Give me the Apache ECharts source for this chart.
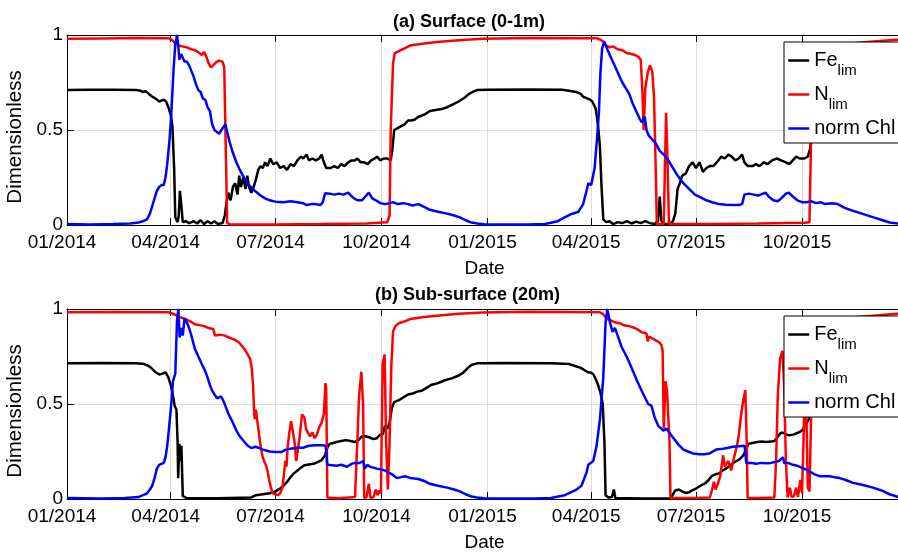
<!DOCTYPE html>
<html>
<head>
<meta charset="utf-8">
<script src="https://cdn.jsdelivr.net/npm/echarts@6/dist/echarts.min.js"></script>
<style>html,body{margin:0;padding:0;background:#fff}#c{width:898px;height:552px}</style>
</head>
<body>
<div id="c"></div>
<script>
// ---- tick labels (days since 2014-01-01) ----
const tickDays = [0, 90, 181, 273, 365, 455, 546, 638];
const tickLabels = ['01/2014','04/2014','07/2014','10/2014','01/2015','04/2015','07/2015','10/2015'];
const seriesNames = ['Fe_lim', 'N_lim', 'norm Chl'];
const panelTitles = ['(a) Surface (0-1m)', '(b) Sub-surface (20m)'];

// ---- (a) Surface: Fe limitation ----
const feA_days = [0,20,40,60,63,66,68,71,74,77,80,82,84,86,88,90,91.5,93,94,96,97,98,99,100.5,103,106,110,113,116,119,122,125,128,131,135,137,138.5,140,142,144,146,148,149.5,151,153,155,156.5,158,160,162,164,166,168,170,172,174,176.5,179,182,185,188,191,194,197,200,203,205,208,210,213,216,219,221,223,225,229,232,235,238,241,244,247,250,252,255,258,261,264,267,269,272,275,278,281,282.5,284,287,290,293,296,299,302,305,310,315,320,325,330,335,340,345,349,352,356,365,400,430,437,442,446,448,450,452,454,456,459,461,462.5,464,465.5,468,471,474,478,482,486,490,494,498,502,506,510,513,514.5,516,519,523,526,528,530,532,534,537,540,543,546,549,552,555,558,561,564,568,571,574,577,580,583,586,588,591,595,598,601,605,608,612,616,620,624,627,630,633,636,640,643,645,647,652,660,680,700,730];
const feA_vals = [0.71,0.712,0.712,0.71,0.708,0.70,0.705,0.69,0.675,0.665,0.65,0.655,0.66,0.65,0.62,0.58,0.52,0.3,0.04,0.015,0.05,0.18,0.12,0.015,0.02,0.01,0.02,0.008,0.025,0.005,0.02,0.008,0.02,0.005,0.01,0.05,0.12,0.17,0.13,0.2,0.22,0.16,0.26,0.2,0.25,0.19,0.26,0.2,0.17,0.2,0.24,0.29,0.31,0.3,0.33,0.31,0.35,0.32,0.33,0.3,0.31,0.29,0.32,0.31,0.34,0.36,0.35,0.37,0.34,0.35,0.34,0.35,0.37,0.33,0.30,0.3,0.31,0.3,0.32,0.31,0.33,0.34,0.34,0.35,0.33,0.33,0.32,0.34,0.35,0.36,0.34,0.35,0.35,0.34,0.4,0.5,0.51,0.52,0.53,0.55,0.55,0.555,0.57,0.58,0.6,0.605,0.61,0.62,0.635,0.65,0.67,0.69,0.70,0.71,0.712,0.713,0.712,0.705,0.70,0.69,0.675,0.67,0.665,0.66,0.65,0.61,0.52,0.42,0.2,0.03,0.015,0.02,0.005,0.015,0.01,0.02,0.008,0.018,0.01,0.02,0.01,0.005,0.02,0.15,0.02,0.005,0.005,0.02,0.06,0.19,0.22,0.26,0.27,0.31,0.33,0.30,0.33,0.28,0.30,0.31,0.31,0.33,0.36,0.35,0.37,0.36,0.34,0.35,0.37,0.33,0.31,0.31,0.32,0.31,0.33,0.32,0.34,0.35,0.34,0.33,0.32,0.34,0.36,0.35,0.35,0.36,0.4,0.5,0.52,0.55,0.6,0.63,0.68];

// ---- (a) Surface: N limitation ----
const nA_days = [0,30,60,88,91,94,97,100,104,108,111,114,117,119,121,123,125,127,129,132,135,136.5,137.5,139,142,180,220,260,278,280,281,283,284.5,288,293,298,310,321,340,361,400,460,463,465.5,468,471,474,478,482,485.7,490,493,496,498,499.5,500.5,502,504,506,508,509.5,511,512,518,519,520,521,522.5,560,600,640,644.5,646,647.5,650,655,665,680,700,720,730];
const nA_vals = [0.98,0.982,0.984,0.983,0.975,0.956,0.945,0.94,0.935,0.925,0.92,0.91,0.895,0.91,0.885,0.85,0.83,0.84,0.855,0.865,0.86,0.83,0.5,0.01,0.003,0.003,0.005,0.008,0.015,0.05,0.5,0.85,0.905,0.915,0.93,0.945,0.955,0.963,0.972,0.98,0.984,0.983,0.975,0.965,0.945,0.935,0.94,0.925,0.92,0.905,0.9,0.895,0.885,0.87,0.7,0.5,0.72,0.8,0.84,0.81,0.68,0.3,0.005,0.005,0.3,0.59,0.4,0.005,0.005,0.008,0.012,0.015,0.5,0.86,0.9,0.92,0.94,0.955,0.966,0.975,0.978];

// ---- (a) Surface: normalised Chl ----
const chlA_days = [0,20,40,55,62,66,69.5,72,74,76,78,80,82,84,85.5,87,89,90.5,92.5,94,95.5,96.5,97.5,99,100,102,104,106,108,110,112,114,116,118,120,122,124,126,128,130,132,134,135.5,137.5,139,141,144,147,150,154,158,163,168,172,176,181,188,194,200,205,208,212,216,220,222,224,228,232,236,240,244,248,252,256,259,262,265,268,272,276,280,283,287,292,296,300,305,310,315,322,330,336,341,346,350,356,362,380,400,415,426,432,438,444,448,451,452.5,455,458,460,461.7,463,464.5,466.4,468,470,473,476,479,482,485,488,491,494,497,499,501.5,503,505,508,511,514.5,518,521,525,530,535,540,545,550,555,560,566,572,578,583,586,588,592,596,600,604,606.5,609,613,617,620,624,626.5,630,634,638,642,646,650,654,658,664,669,675,682,690,700,708,714,722,730];
const chlA_vals = [0.005,0.003,0.005,0.008,0.013,0.02,0.03,0.06,0.1,0.14,0.18,0.2,0.21,0.21,0.25,0.32,0.45,0.58,0.82,0.95,1.0,0.95,0.87,0.9,0.89,0.86,0.86,0.84,0.81,0.78,0.74,0.71,0.7,0.665,0.66,0.62,0.6,0.53,0.5,0.49,0.48,0.5,0.49,0.53,0.49,0.44,0.38,0.33,0.29,0.245,0.21,0.18,0.155,0.14,0.13,0.123,0.12,0.125,0.12,0.115,0.105,0.11,0.11,0.105,0.12,0.167,0.165,0.16,0.165,0.16,0.17,0.145,0.13,0.13,0.15,0.17,0.14,0.13,0.115,0.11,0.115,0.12,0.11,0.115,0.11,0.103,0.11,0.095,0.08,0.07,0.06,0.05,0.04,0.025,0.015,0.008,0.004,0.002,0.002,0.005,0.02,0.04,0.058,0.07,0.11,0.18,0.22,0.21,0.3,0.45,0.59,0.8,0.93,0.965,0.94,0.91,0.87,0.83,0.79,0.75,0.72,0.69,0.64,0.6,0.56,0.54,0.57,0.5,0.47,0.45,0.43,0.39,0.37,0.35,0.31,0.26,0.22,0.19,0.16,0.145,0.13,0.12,0.11,0.107,0.105,0.105,0.11,0.16,0.165,0.16,0.155,0.165,0.17,0.15,0.13,0.125,0.14,0.165,0.17,0.15,0.13,0.12,0.12,0.125,0.115,0.12,0.11,0.115,0.11,0.09,0.075,0.06,0.04,0.025,0.013,0.008,0.005];

// ---- (b) Sub-surface: Fe limitation ----
const feB_days = [0,30,60,67,71,74,77,80,83,85.5,88,90,91.5,93.5,95,96,96.5,97.5,98.5,99.3,100.5,104,130,160,164,170,176,181,185,188,191,194,197,200,203,206,210,214,218,221,224,226,228,231,234,238,242,246,250,253,256,259,262,266,269,272,274,276,278,280,282,284,288,292,296,300,304,308,312,316,322,328,334,340,344,348,351,356,380,420,436,441,446,450,452.5,455,457,459,461,463,465,466.5,467.5,470,473,474.7,476,500,524,526,528,531,534,537,540,543,546,550,554,557,559.5,563,566,569,572,576,580,584,587,589.5,591.4,595,599,603,607,611,614,616,619,621,624,627,631,635,638,640,642,644,647,650,655,665,685,705,730];
const feB_vals = [0.714,0.716,0.715,0.71,0.70,0.685,0.667,0.655,0.66,0.667,0.64,0.6,0.56,0.49,0.47,0.3,0.11,0.29,0.2,0.28,0.015,0.005,0.004,0.008,0.02,0.025,0.03,0.04,0.055,0.07,0.09,0.115,0.135,0.15,0.165,0.178,0.182,0.185,0.195,0.205,0.23,0.27,0.29,0.295,0.30,0.305,0.31,0.305,0.30,0.31,0.33,0.33,0.325,0.315,0.32,0.34,0.34,0.385,0.37,0.4,0.48,0.51,0.52,0.535,0.55,0.555,0.565,0.57,0.585,0.6,0.61,0.625,0.635,0.65,0.665,0.69,0.705,0.714,0.716,0.715,0.71,0.70,0.69,0.675,0.667,0.665,0.655,0.63,0.6,0.56,0.5,0.3,0.02,0.008,0.01,0.05,0.005,0.003,0.004,0.025,0.045,0.05,0.04,0.032,0.035,0.047,0.055,0.07,0.083,0.1,0.12,0.13,0.135,0.15,0.16,0.18,0.196,0.21,0.23,0.26,0.29,0.295,0.3,0.303,0.3,0.302,0.305,0.32,0.345,0.35,0.34,0.335,0.34,0.35,0.36,0.38,0.4,0.42,0.47,0.51,0.53,0.56,0.6,0.63,0.67];

// ---- (b) Sub-surface: N limitation ----
const nB_days = [0,40,88,92,95.5,99,103,107,111,115,119,123,127,128.5,130,133,137,140.5,145,149,152,155,157,159,160.5,161.5,162.5,163,164,165,166.5,168,169.5,171,172.5,174,175.5,177,178.5,181,183,185,187,188.5,189.5,190.5,191.5,193,194.5,196,197.5,199,200.5,202,204,206,207.5,209,211,213,215,217,219,221,223,224.3,225,226,235,245,250,252,253.5,255.5,257,258,260,262,263.5,266,268,269.5,271,272.5,274,275.7,277,278.5,280,281.5,283,285,288,293,298,310,321,340,361,400,462,465,468.4,472,475.6,480,484,488,493,496,499,501,503,504,505.5,508,511,514,516,517,518,519.5,520.8,522,523,523.8,545,558,560,561.5,563,565,567,569.5,571,574,576.5,579.5,581.5,583,585.3,587,588.8,590,590.8,600,614,615.5,617,619,621,622.5,624,625.5,627.5,629,631,633,634.5,636.5,638,640,641.5,643,644.5,646.5,648.5,652,660,680,700,720,730];
const nB_vals = [0.983,0.984,0.983,0.975,0.965,0.955,0.947,0.935,0.92,0.915,0.91,0.9,0.895,0.86,0.855,0.865,0.86,0.85,0.84,0.825,0.805,0.78,0.76,0.737,0.68,0.6,0.45,0.42,0.47,0.42,0.35,0.28,0.23,0.2,0.18,0.15,0.1,0.06,0.03,0.025,0.02,0.03,0.06,0.14,0.2,0.17,0.27,0.35,0.41,0.4,0.3,0.2,0.21,0.33,0.445,0.43,0.37,0.35,0.33,0.35,0.32,0.34,0.38,0.4,0.45,0.61,0.58,0.008,0.004,0.008,0.01,0.3,0.54,0.67,0.5,0.005,0.01,0.08,0.005,0.01,0.05,0.02,0.045,0.03,0.71,0.76,0.3,0.05,0.3,0.7,0.88,0.91,0.925,0.935,0.947,0.958,0.965,0.975,0.982,0.985,0.983,0.975,0.95,0.94,0.93,0.925,0.913,0.91,0.9,0.89,0.877,0.875,0.87,0.83,0.855,0.845,0.835,0.825,0.81,0.78,0.37,0.62,0.57,0.58,0.3,0.005,0.005,0.008,0.05,0.09,0.05,0.08,0.12,0.23,0.17,0.2,0.15,0.23,0.28,0.33,0.45,0.52,0.574,0.3,0.005,0.005,0.008,0.2,0.55,0.74,0.78,0.6,0.2,0.008,0.06,0.01,0.015,0.06,0.01,0.1,0.03,0.45,0.55,0.06,0.04,0.6,0.88,0.91,0.93,0.955,0.965,0.975,0.978];

// ---- (b) Sub-surface: normalised Chl ----
const chlB_days = [0,30,50,62,66,69.5,72,74,76,78,80,82,84,85.5,87,89,90.5,92,94,95.5,96.7,97.8,99.3,100.5,102,104,106,108,111,114,117,119.5,122,124,126,128,130.3,132,133.5,135.5,137.5,140,143.3,147,150,154,157,160,163.5,166,170,176,181,186,190,194,199.5,205,210,215,221,224.5,226,230,234,238,243,247,250,254,257.3,258.5,260.8,263,266,269,273,276,279,282,286.3,290,293.5,298,305,310,315,322,330,336,341,346,350,356,362,380,405,420,432,441,446.6,451,452.5,456.8,459.7,462.6,465.5,467.5,469,471.3,473.6,475.6,478,481.4,485.7,488,491.5,495,498.8,502,504.5,507.4,510,513.2,517.6,520.5,524,527.7,531,535,539,543.3,549,553,557.8,563.5,569.4,574,578,583,588.2,589.6,594,598.4,602,607,611,614.3,618,621.5,622.5,626,630,634,637.4,641.7,646,649,653.3,658,662,666,670.7,676,682.3,690,699.7,707,714,722,730];
const chlB_vals = [0.005,0.003,0.005,0.01,0.02,0.03,0.05,0.07,0.11,0.16,0.18,0.185,0.19,0.22,0.28,0.4,0.5,0.62,0.66,0.94,1.0,0.85,0.9,0.86,0.95,0.93,0.9,0.86,0.79,0.75,0.71,0.68,0.64,0.6,0.57,0.55,0.53,0.52,0.54,0.52,0.49,0.45,0.41,0.36,0.33,0.3,0.28,0.268,0.275,0.27,0.26,0.25,0.247,0.247,0.26,0.265,0.27,0.27,0.28,0.283,0.283,0.28,0.18,0.178,0.175,0.18,0.17,0.185,0.19,0.19,0.2,0.16,0.18,0.17,0.165,0.16,0.155,0.15,0.14,0.13,0.11,0.115,0.12,0.11,0.105,0.095,0.08,0.07,0.06,0.05,0.04,0.025,0.015,0.008,0.004,0.002,0.002,0.005,0.02,0.045,0.07,0.14,0.18,0.2,0.28,0.42,0.64,0.93,1.0,0.93,0.88,0.9,0.86,0.8,0.75,0.72,0.67,0.62,0.57,0.53,0.5,0.49,0.43,0.385,0.36,0.37,0.34,0.31,0.285,0.26,0.25,0.24,0.235,0.236,0.24,0.26,0.265,0.27,0.275,0.278,0.28,0.19,0.19,0.185,0.19,0.188,0.19,0.195,0.2,0.22,0.19,0.19,0.18,0.175,0.165,0.155,0.14,0.13,0.12,0.12,0.12,0.115,0.11,0.1,0.085,0.075,0.06,0.045,0.025,0.01,0.005];

const panels = [
  { fe: [feA_days, feA_vals], n: [nA_days, nA_vals], chl: [chlA_days, chlA_vals] },
  { fe: [feB_days, feB_vals], n: [nB_days, nB_vals], chl: [chlB_days, chlB_vals] }
];

const FONT = '"Liberation Sans", Arial, Helvetica, sans-serif';
const gridTops = [35, 309];
const gridH = 190;
const legendTops = [42, 316];
const titleTops = [13, 286];
const titleLefts = [393, 375];

const pair = (d, v) => d.map((x, i) => [x, v[i]]);
const labelFor = v => {
  for (let i = 0; i < tickDays.length; i++) if (Math.abs(tickDays[i] - v) < 0.5) return tickLabels[i];
  return '';
};

const grid = [], xAxis = [], yAxis = [], series = [], legend = [], title = [];
gridTops.forEach((top, gi) => {
  grid.push({ left: 67, top: top, height: gridH, right: -10, outerBoundsMode: 'none', containLabel: false });
  xAxis.push({
    type: 'value', gridIndex: gi, min: 0, max: 730,
    name: 'Date', nameLocation: 'middle', nameGap: 34,
    nameTextStyle: { fontSize: 19, color: '#000', fontFamily: FONT, padding: [0, 6, 0, 0] },
    axisLine: { show: true, onZero: false, lineStyle: { color: '#000', width: 1 } },
    axisTick: { show: true, inside: true, length: 7, customValues: tickDays, lineStyle: { color: '#000' } },
    axisLabel: { customValues: tickDays, formatter: labelFor, fontSize: 19, color: '#000', fontFamily: FONT, margin: 8, padding: [0, 10, 0, 0] },
    splitLine: { show: true, lineStyle: { color: '#dedede', width: 1 } }
  });
  xAxis.push({
    type: 'value', gridIndex: gi, min: 0, max: 730, position: 'top',
    axisLine: { show: true, onZero: false, lineStyle: { color: '#000', width: 1 } },
    axisTick: { show: true, inside: true, length: 7, customValues: tickDays, lineStyle: { color: '#000' } },
    axisLabel: { show: false }, splitLine: { show: false }
  });
  yAxis.push({
    type: 'value', gridIndex: gi, min: 0, max: 1, interval: 0.5,
    name: 'Dimensionless', nameLocation: 'middle', nameGap: 33, nameRotate: 90,
    nameTextStyle: { fontSize: 20.5, color: '#000', fontFamily: FONT, padding: [0, 14, 0, 0] },
    axisLine: { show: true, lineStyle: { color: '#000', width: 1 } },
    axisTick: { show: true, inside: true, length: 7, lineStyle: { color: '#000' } },
    axisLabel: { fontSize: 19, color: '#000', fontFamily: FONT, margin: 4 },
    splitLine: { show: true, lineStyle: { color: '#dedede', width: 1 } }
  });
  const p = panels[gi];
  const defs = [[p.fe, '#000000'], [p.n, '#ff0000'], [p.chl, '#0000ff']];
  defs.forEach((d, si) => {
    series.push({
      type: 'line', name: seriesNames[si], xAxisIndex: gi * 2, yAxisIndex: gi,
      data: pair(d[0][0], d[0][1]), showSymbol: false, symbol: 'none',
      lineStyle: { color: d[1], width: 2.5 }, itemStyle: { color: d[1] },
      clip: true, animation: false, z: 2
    });
  });
  legend.push({
    data: seriesNames, orient: 'vertical', left: 784, top: legendTops[gi],
    padding: [8, 30, 5, 3], itemGap: 1, itemWidth: 21, itemHeight: 14,
    backgroundColor: '#fff', borderColor: '#000', borderWidth: 1, borderRadius: 0,
    selectedMode: false, z: 10,
    itemStyle: { opacity: 0, borderWidth: 0 },
    lineStyle: { width: 2.5 },
    formatter: name => name === 'Fe_lim' ? '{b|Fe}{s|lim}' : (name === 'N_lim' ? '{b|N}{s|lim}' : '{b|norm Chl}'),
    textStyle: {
      color: '#000', fontFamily: FONT, fontSize: 19,
      rich: {
        b: { fontSize: 20, lineHeight: 21, verticalAlign: 'top', fontFamily: FONT, color: '#000' },
        s: { fontSize: 15, lineHeight: 15, padding: [13, 0, 5, 0], verticalAlign: 'top', fontFamily: FONT, color: '#000' }
      }
    }
  });
  title.push({
    text: panelTitles[gi], left: titleLefts[gi], top: titleTops[gi], padding: 0,
    textStyle: { fontSize: 18, fontWeight: 'bold', color: '#000', fontFamily: FONT }
  });
});

const chart = echarts.init(document.getElementById('c'), null, { renderer: 'canvas' });
chart.setOption({ animation: false, backgroundColor: '#fff', title, grid, xAxis, yAxis, legend, series });
</script>
</body>
</html>
